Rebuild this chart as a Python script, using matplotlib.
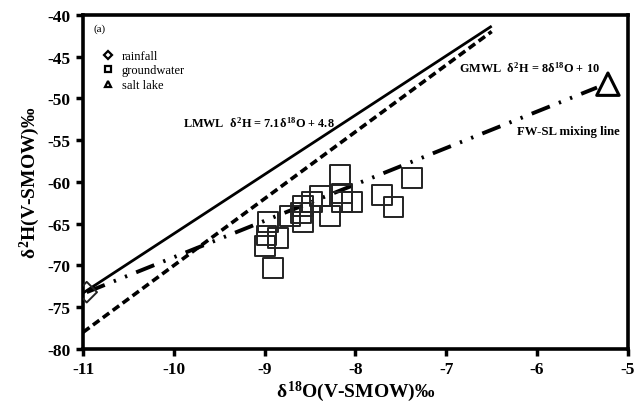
import numpy as np
import matplotlib
matplotlib.use("Agg")
import matplotlib.pyplot as plt
from matplotlib.lines import Line2D

plt.rcParams["font.family"] = ["Liberation Serif", "DejaVu Serif"]
plt.rcParams["font.weight"] = "bold"
plt.rcParams["axes.unicode_minus"] = False
plt.rcParams["mathtext.fontset"] = "custom"
plt.rcParams["mathtext.rm"] = "Liberation Serif:bold"
plt.rcParams["mathtext.it"] = "Liberation Serif:bold"
plt.rcParams["mathtext.bf"] = "Liberation Serif:bold"

# data
rain_x = [-10.96]
rain_y = [-73.2]

gw_x = [-8.17, -8.15, -8.15, -8.04, -8.39, -8.48, -8.58, -8.60, -8.72, -8.58,
        -8.28, -8.96, -8.98, -8.85, -9.00, -8.91, -7.71, -7.58, -7.38]
gw_y = [-59.2, -61.4, -62.4, -62.4, -61.7, -62.4, -62.9, -63.7, -64.1, -64.8,
        -64.1, -64.8, -66.4, -66.7, -67.7, -70.3, -61.6, -63.0, -59.5]

lake_x = [-5.22]
lake_y = [-48.3]

# meteoric water lines
lmwl_slope, lmwl_icpt = 7.1, 4.8
gmwl_slope, gmwl_icpt = 8.0, 10.0
line_x = np.array([-11.0, -6.5])

fig = plt.figure(figsize=(6.44, 4.06), dpi=100)
ax = fig.add_axes([0.129, 0.138, 0.846, 0.823])

ax.plot(line_x, lmwl_slope * line_x + lmwl_icpt, color="black", lw=2.0,
        solid_capstyle="butt", zorder=2)
ax.plot(line_x, gmwl_slope * line_x + gmwl_icpt, color="black", lw=2.6,
        dashes=(2.2, 1.2), zorder=2)
ax.plot([rain_x[0], lake_x[0] - 0.12], [rain_y[0], lake_y[0] - 0.4],
        color="black", lw=2.8, dashes=(5, 2.5, 0.6, 2.5, 0.6, 2.5), zorder=2)

ax.scatter(gw_x, gw_y, marker="s", s=200, facecolors="none",
           edgecolors="#222222", linewidths=1.4, zorder=3)
ax.scatter(rain_x, rain_y, marker="D", s=110, facecolors="none",
           edgecolors="#222222", linewidths=1.4, zorder=3)
ax.scatter(lake_x, lake_y, marker="^", s=260, facecolors="none",
           edgecolors="black", linewidths=2.2, zorder=3)

ax.text(-9.9, -52.9, r"LMWL  $\delta^2$H = 7.1$\delta^{18}$O + 4.8",
        fontsize=8.8, fontweight="bold", va="center")
ax.text(-6.86, -46.3, r"GMWL  $\delta^2$H = 8$\delta^{18}$O + 10",
        fontsize=8.8, fontweight="bold", va="center")
ax.text(-6.22, -53.9, "FW-SL mixing line",
        fontsize=9.2, fontweight="bold", va="center")
ax.text(-10.88, -41.6, "(a)", fontsize=8, fontweight="normal", va="center")

handles = [
    Line2D([], [], marker="D", ls="none", mfc="none", mec="black", mew=1.6, ms=4.5),
    Line2D([], [], marker="s", ls="none", mfc="none", mec="black", mew=1.6, ms=5),
    Line2D([], [], marker="^", ls="none", mfc="none", mec="black", mew=1.6, ms=5),
]
leg = ax.legend(handles, ["rainfall", "groundwater", "salt lake"],
                loc="upper left", bbox_to_anchor=(0.025, 0.91), frameon=False,
                prop={"size": 9, "weight": "normal"}, handlelength=1.0,
                handletextpad=0.6, labelspacing=0.2, borderaxespad=0)

ax.set_xlim(-11, -5)
ax.set_ylim(-80, -40)
ax.set_xticks(np.arange(-11, -4, 1))
ax.set_yticks(np.arange(-80, -35, 5))
ax.tick_params(direction="out", length=5, width=2.5, labelsize=12.5, pad=4)
for lab in ax.get_xticklabels() + ax.get_yticklabels():
    lab.set_fontweight("bold")
for sp in ax.spines.values():
    sp.set_linewidth(2.6)

ax.set_xlabel(r"$\delta^{18}$O(V-SMOW)‰", fontsize=14, fontweight="bold", labelpad=1)
ax.set_ylabel(r"$\delta^2$H(V-SMOW)‰", fontsize=14, fontweight="bold", labelpad=4)

fig.savefig("out.png", dpi=100)
